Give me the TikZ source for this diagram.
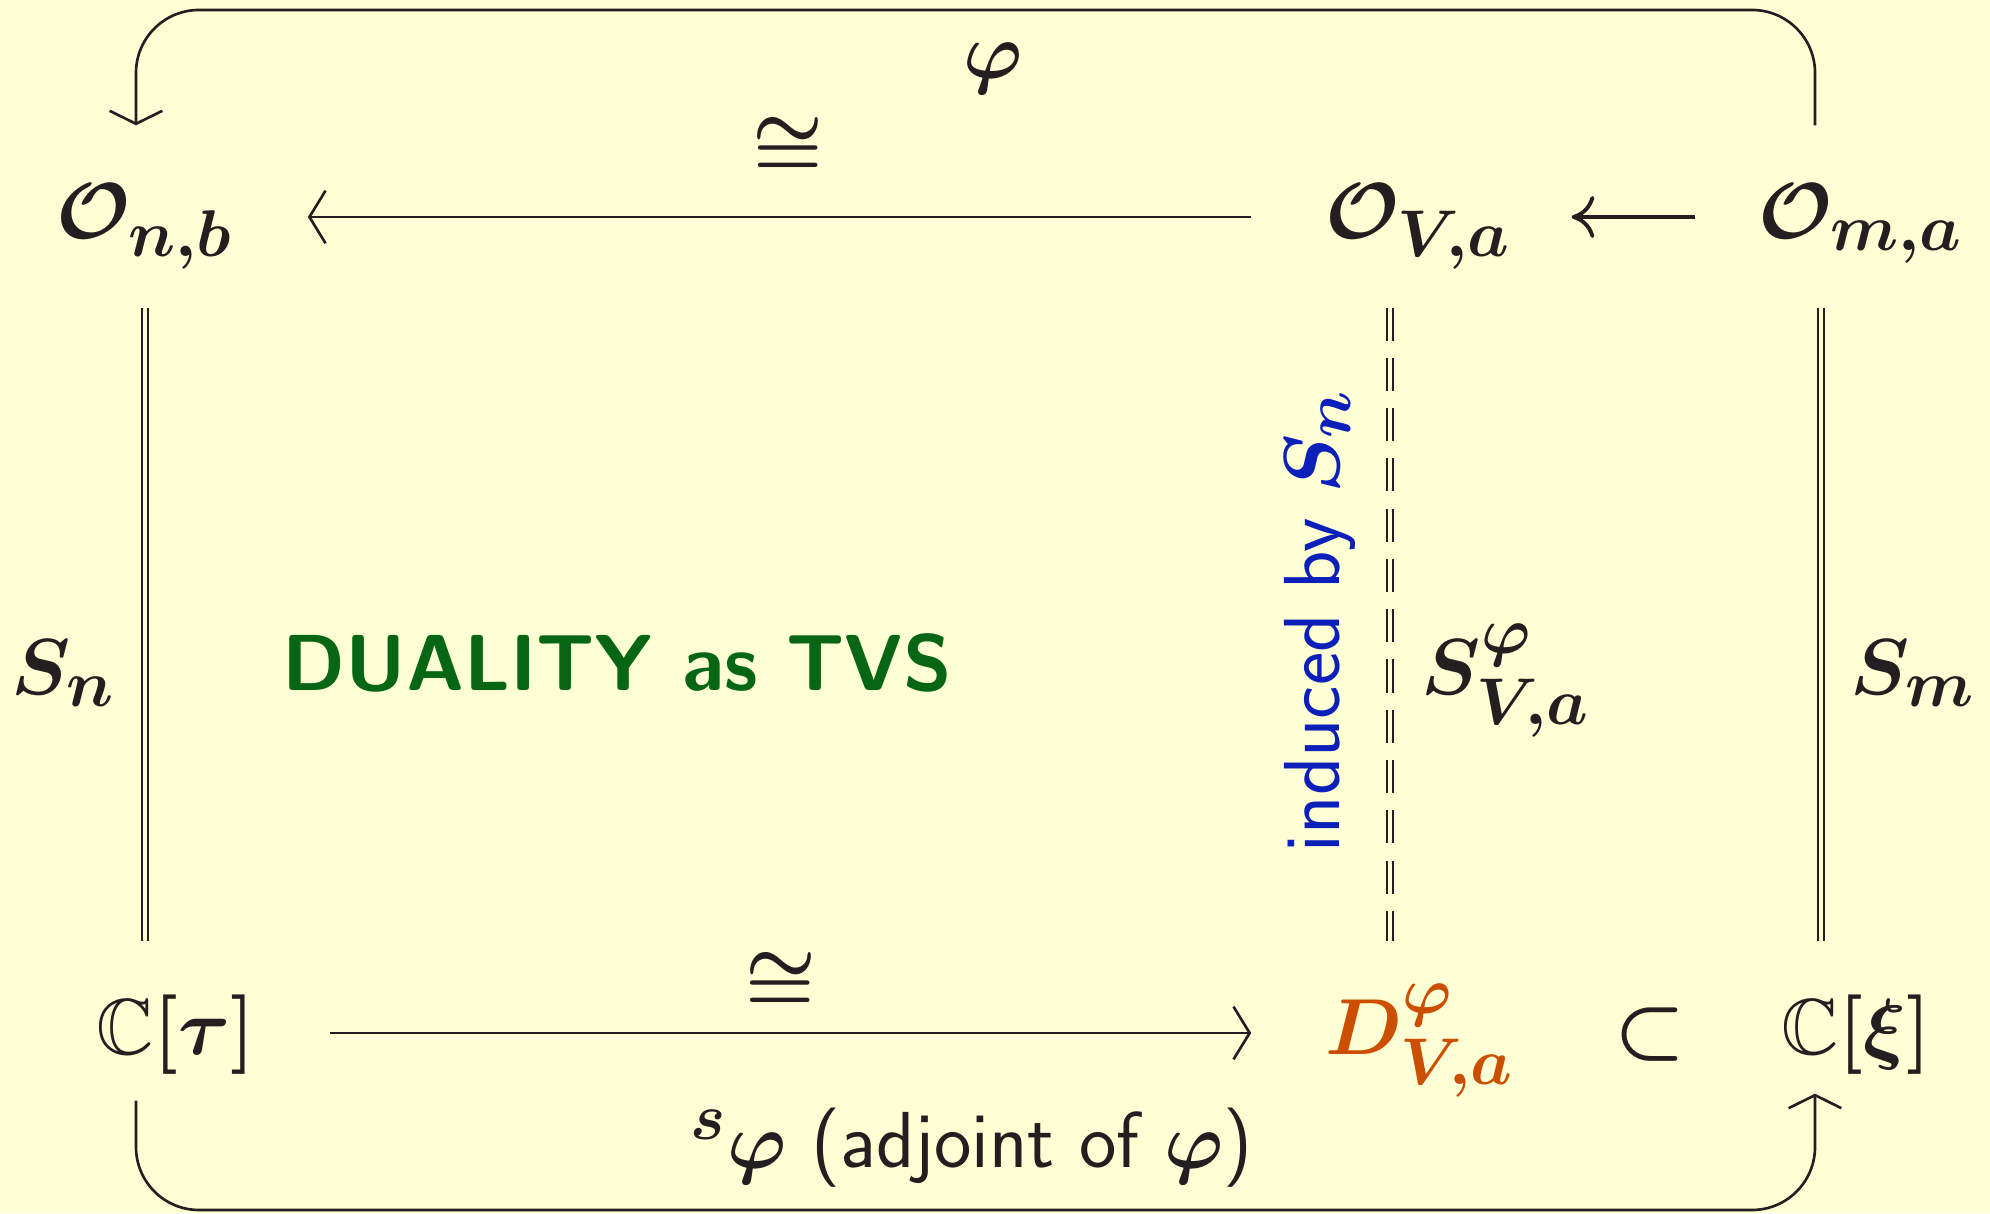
\RequirePackage{fix-cm}
\documentclass[tikz,border=0pt]{standalone}
\usepackage{amsmath,amssymb}
\usetikzlibrary{arrows.meta}
\DeclareMathSizes{22.6}{22.6}{18.8}{13}
\definecolor{slidebg}{RGB}{255,255,214}
\definecolor{ink}{RGB}{35,31,32}
\definecolor{dualgreen}{RGB}{6,102,19}
\definecolor{indblue}{RGB}{12,32,185}
\definecolor{dorange}{RGB}{204,78,0}

\tikzset{
  obj/.style={anchor=base,inner sep=0pt,text height=8mm,text depth=3.6mm},
  iso/.style={-{Straight Barb[length=4.6pt,width=15pt]},line width=0.75pt,shorten <=7.4mm,shorten >=7.4mm},
  incl/.style={-{Computer Modern Rightarrow[length=6.5pt,width=12pt]},line width=1.1pt,shorten <=6.3mm,shorten >=6mm},
  eqv/.style={double=slidebg,double distance=1.1pt,line width=0.7pt,shorten <=3.2mm,shorten >=3.3mm},
  loopar/.style={-{Straight Barb[length=3.7pt,width=15pt]},line width=0.75pt,rounded corners=6.3mm},
}

\begin{document}
\begin{tikzpicture}[color=ink,font=\fontsize{22.6}{27}\selectfont\boldmath]
\fill[slidebg] (0,0) rectangle (19.9,12.13);
\useasboundingbox (0,0) rectangle (19.9,12.13);
% top row
\node[obj] (Onb) at (1.45,9.74) {$\mathcal{O}_{n,b}$};
\node[obj] (OVa) at (14.18,9.74) {$\mathcal{O}_{V,a}$};
\node[obj] (Oma) at (18.61,9.74) {$\mathcal{O}_{m,a}$};
% bottom row
\node[obj] (Ctau) at (1.76,1.58) {$\mathbb{C}[\tau]$};
\node[obj,text=dorange] (DVa) at (14.20,1.58) {$D^{\varphi}_{V,a}$};
\node[obj] (sub) at (16.50,1.58) {$\subset$};
\node[obj] (Cxi) at (18.56,1.58) {$\mathbb{C}[\xi]$};
% horizontal maps
\draw[iso] (OVa) -- node[xshift=0.9mm,yshift=7mm] (isotop) {$\cong$} (Onb);
\draw[incl] (Oma) -- (OVa);
\draw[iso] (Ctau) -- node[xshift=-1mm,yshift=5.1mm] (isobot) {$\cong$} (DVa);
% vertical identifications
\draw[eqv] (Onb.south) -- (Onb.south |- Ctau.north);
\draw[eqv,dash pattern=on 9.4pt off 4.9pt] ([xshift=-2.8mm]OVa.south) -- ([xshift=-2.8mm]OVa.south |- DVa.north);
\draw[eqv] ([xshift=-4mm]Oma.south) -- ([xshift=-4mm]Oma.south |- Cxi.north);
\node[anchor=base] (Sn) at (0.63,5.18) {$S_n$};
\node[anchor=base west,inner sep=0pt] (SVa) at (14.21,5.18) {$S^{\varphi}_{V,a}$};
\node[anchor=base west,inner sep=0pt] (Sm) at (18.50,5.18) {$S_m$};
\node[rotate=90,anchor=base,text=indblue] (induced) at (13.39,5.92) {\sffamily induced by $S_n$};
\node[anchor=base,text=dualgreen] (duality) at (6.17,5.22) {\sffamily\bfseries DUALITY as TVS};
% outer loops
\coordinate (toprun) at (10,12.03);
\coordinate (botrun) at (10,0.03);
\draw[loopar] ([xshift=-4.6mm,yshift=3.3mm]Oma.north) |- (toprun) -| ([xshift=-0.9mm,yshift=3.3mm]Onb.north);
\node (phitop) at (9.93,11.44) {$\varphi$};
\draw[loopar] ([xshift=-4mm,yshift=-0.9mm]Ctau.south) |- (botrun) -| ([xshift=-4.1mm,yshift=-0.2mm]Cxi.south);
\node[anchor=base] (adj) at (9.72,0.45) {${}^{s}\varphi$ \sffamily(adjoint of $\varphi$)};
\end{tikzpicture}
\end{document}
